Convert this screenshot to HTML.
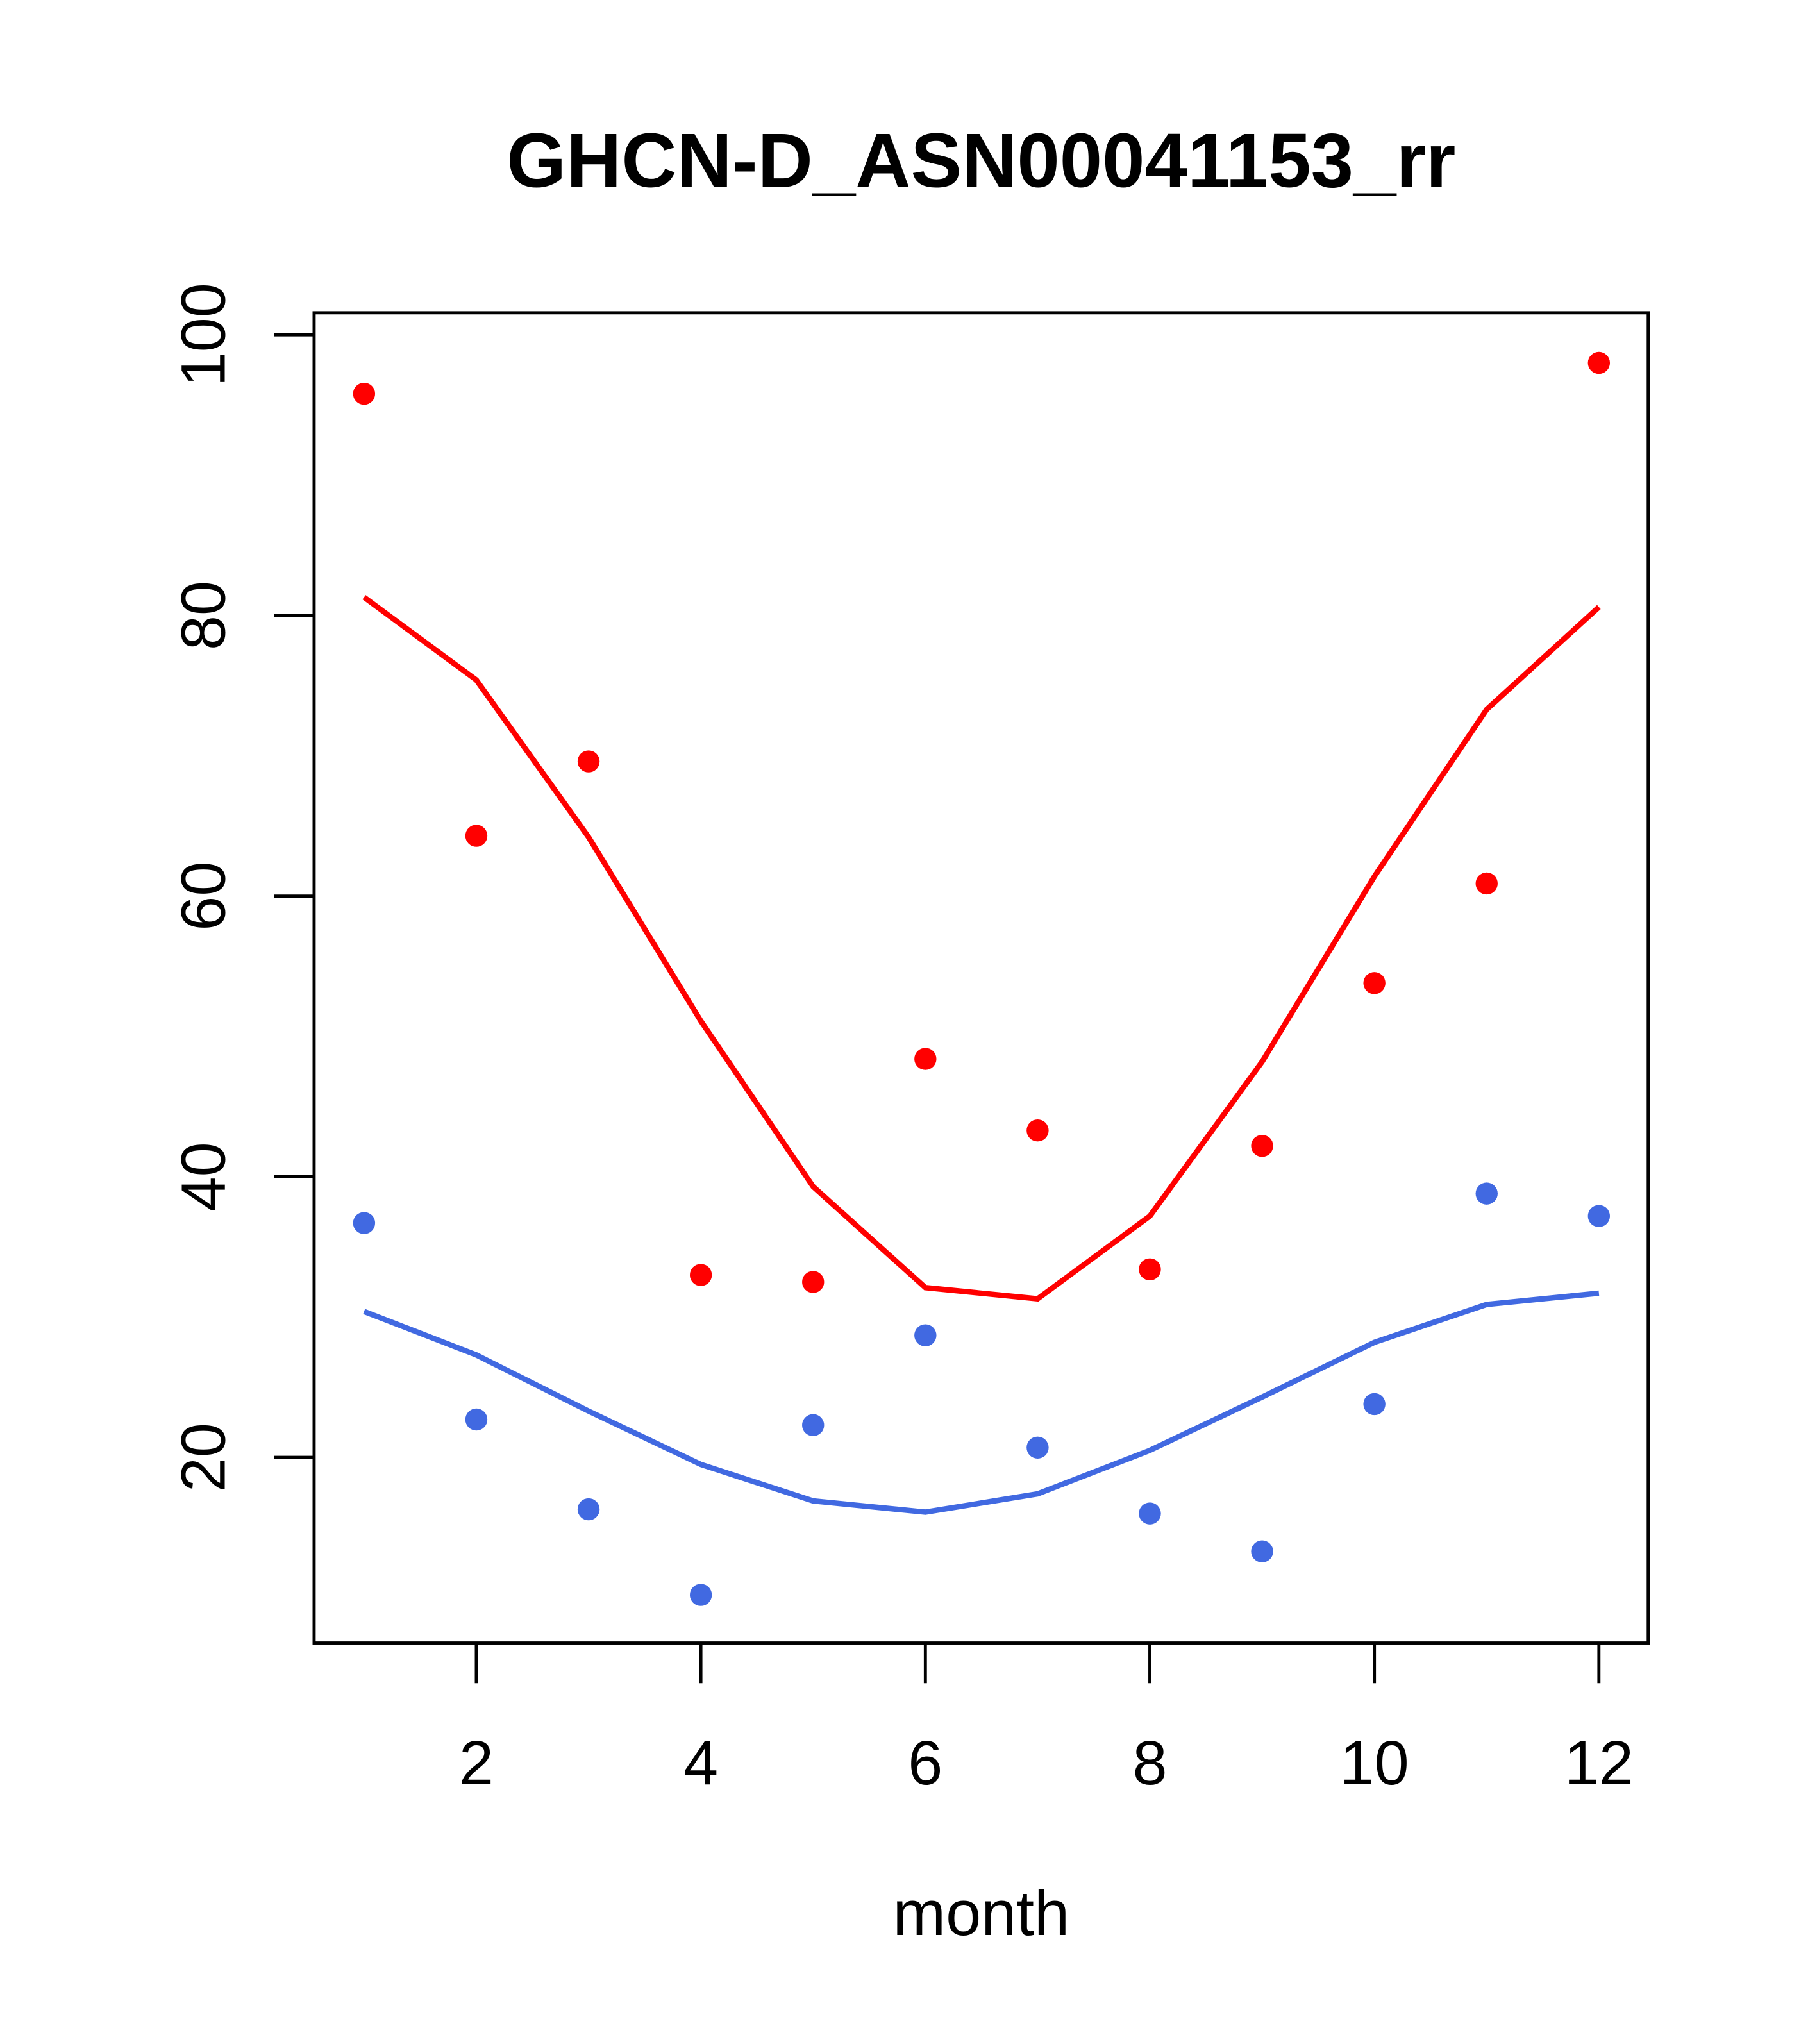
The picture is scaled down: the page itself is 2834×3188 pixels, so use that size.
<!DOCTYPE html>
<html><head><meta charset="utf-8"><style>html,body{margin:0;padding:0;background:#fff}svg{display:block}</style></head>
<body>
<svg id="chart" width="2834" height="3188" viewBox="0 0 1400 1575" xmlns="http://www.w3.org/2000/svg" font-family="'Liberation Sans', sans-serif">
<rect width="1400" height="1575" fill="#fff"/>
<text x="756" y="144" font-size="59" font-weight="bold" text-anchor="middle">GHCN-D_ASN00041153_rr</text>
<rect x="242" y="241" width="1028" height="1025" fill="none" stroke="#000" stroke-width="2.4"/>
<text x="756" y="1491" font-size="49" text-anchor="middle">month</text>
<g id="axes"></g>
<g id="marks"></g>
</svg>
<script>
const months = [1,2,3,4,5,6,7,8,9,10,11,12];
const redPoints = [95.8,64.3,69.6,33.0,32.5,48.4,43.3,33.4,42.2,53.8,60.9,98.0];
const redLine = [81.3,75.4,64.2,51.1,39.3,32.1,31.3,37.2,48.2,61.4,73.3,80.6];
const bluePoints = [36.7,22.7,16.3,10.2,22.3,28.7,20.7,16.0,13.3,23.8,38.8,37.2];
const blueLine = [30.4,27.3,23.3,19.5,16.9,16.1,17.4,20.5,24.3,28.2,30.9,31.7];
const xTicks = [2,4,6,8,10,12];
const yTicks = [20,40,60,80,100];

const NS = "http://www.w3.org/2000/svg";
function xs(m){ return 367 + (m-2)*86.5; }
function ys(v){ return 1123 - (v-20)*10.8125; }
const axes = document.getElementById('axes');
const marks = document.getElementById('marks');
function mk(tag, attrs, parent){
  const e = document.createElementNS(NS, tag);
  for (const k in attrs) e.setAttribute(k, attrs[k]);
  parent.appendChild(e);
  return e;
}
xTicks.forEach(t=>{
  const l = mk('line',{x1:xs(t),x2:xs(t),y1:1266,y2:1297,stroke:'#000','stroke-width':2.4},axes);
  
  
  const tx = mk('text',{x:xs(t),y:1375,'font-size':48,'text-anchor':'middle'},axes);
  tx.textContent = t;
  
  
});
yTicks.forEach(t=>{
  const l = mk('line',{x1:211,x2:242,y1:ys(t),y2:ys(t),stroke:'#000','stroke-width':2.4},axes);
  
  
  const tx = mk('text',{x:0,y:0,'font-size':48,'text-anchor':'middle',transform:`translate(173,${ys(t)}) rotate(-90)`},axes);
  tx.textContent = t;
  
  
});
function line(vals,color,name){
  const p = mk('polyline',{points:vals.map((v,i)=>xs(months[i])+','+ys(v)).join(' '),fill:'none',stroke:color,'stroke-width':4.2},marks);
  
  
}
function pts(vals,color,name){
  vals.forEach((v,i)=>{
    const c = mk('circle',{cx:xs(months[i]),cy:ys(v),r:8.5,fill:color},marks);
    
    
  });
}
line(redLine,'#FF0000','red-line');
line(blueLine,'#4169E1','blue-line');
pts(redPoints,'#FF0000','red-point');
pts(bluePoints,'#4169E1','blue-point');
</script>
</body></html>
